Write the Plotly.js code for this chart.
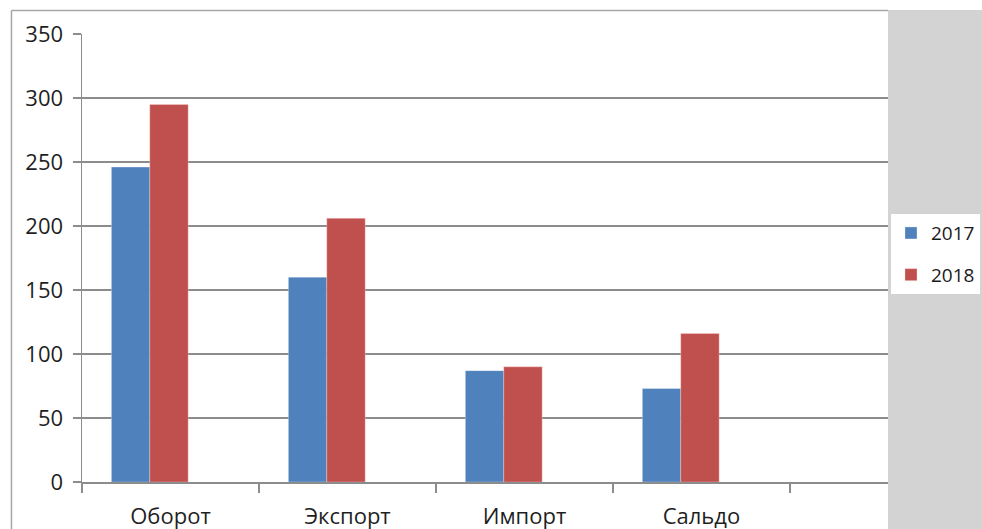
<!DOCTYPE html>
<html>
<head>
<meta charset="utf-8">
<script src="https://cdn.plot.ly/plotly-3.0.1.min.js"></script>
<style>html,body{margin:0;padding:0;background:#fff}#chart{width:982px;height:529px}</style>
</head>
<body>
<div id="chart"></div>
<script>
const categories = ["Оборот", "Экспорт", "Импорт", "Сальдо"];
const seriesNames = ["2017", "2018"];
const values2017 = [246, 160, 87, 73];
const values2018 = [295, 206, 90, 116];
const yTicks = [0, 50, 100, 150, 200, 250, 300, 350];

const FONT = '"Open Sans", "DejaVu Sans", sans-serif';
const GRID = '#8c8c8c';

const traces = [
  {type: 'bar', name: seriesNames[0], x: categories, y: values2017,
   marker: {color: '#4F81BD', line: {color: 'rgba(255,255,255,0.5)', width: 0.6}},
   width: 0.217, offset: -0.334, legendgroup: 'a', hoverinfo: 'x+y+name'},
  {type: 'bar', name: seriesNames[1], x: categories, y: values2018,
   marker: {color: '#C0504D', line: {color: 'rgba(255,220,220,0.6)', width: 0.6}},
   width: 0.217, offset: -0.117, legendgroup: 'b', hoverinfo: 'x+y+name'}
];

const layout = {
  width: 982, height: 529,
  margin: {l: 82, r: 94, t: 34, b: 47, autoexpand: false},
  paper_bgcolor: '#ffffff', plot_bgcolor: '#ffffff',
  font: {family: FONT, size: 20, color: '#1f1f1f'},
  showlegend: true,
  barmode: 'overlay',
  xaxis: {
    type: 'category', categoryorder: 'array', categoryarray: categories,
    range: [-0.5, 4.054], tickson: 'boundaries', ticks: 'outside', ticklen: 9,
    tickcolor: GRID, tickwidth: 1.3, showline: true, linecolor: GRID, linewidth: 1.5,
    showgrid: false, zeroline: false, ticklabelstandoff: 14,
    tickfont: {family: FONT, size: 22, color: '#1f1f1f'}, fixedrange: true
  },
  yaxis: {
    range: [0, 350], tickvals: yTicks, ticktext: yTicks.map(String),
    ticks: 'outside', ticklen: 8, tickcolor: GRID, tickwidth: 1.3,
    showline: true, linecolor: GRID, linewidth: 1.5,
    showgrid: true, gridcolor: GRID, gridwidth: 1.5, zeroline: false,
    ticklabelstandoff: 5,
    tickfont: {family: FONT, size: 22, color: '#1f1f1f'}, fixedrange: true
  },
  legend: {
    x: 1.0037, y: 0.598, xanchor: 'left', yanchor: 'top',
    bgcolor: '#ffffff', borderwidth: 0,
    font: {family: FONT, size: 19, color: '#1a1a1a'},
    traceorder: 'grouped', tracegroupgap: 14, itemwidth: 30
  },
  shapes: [
    {type: 'rect', xref: 'paper', yref: 'paper', x0: 1.0, x1: 1.12, y0: -0.11, y1: 1.0536,
     fillcolor: '#d3d3d3', line: {width: 0}, layer: 'below'},
    {type: 'line', xref: 'paper', yref: 'paper', x0: -0.0875, x1: 1.0, y0: 1.0525, y1: 1.0525,
     line: {color: '#a6a6a6', width: 1.5}, layer: 'below'},
    {type: 'line', xref: 'paper', yref: 'paper', x0: -0.0875, x1: -0.0875, y0: 1.0525, y1: -0.11,
     line: {color: '#a6a6a6', width: 1.5}, layer: 'below'}
  ]
};

Plotly.newPlot('chart', traces, layout, {displayModeBar: false, staticPlot: true});
</script>
</body>
</html>
